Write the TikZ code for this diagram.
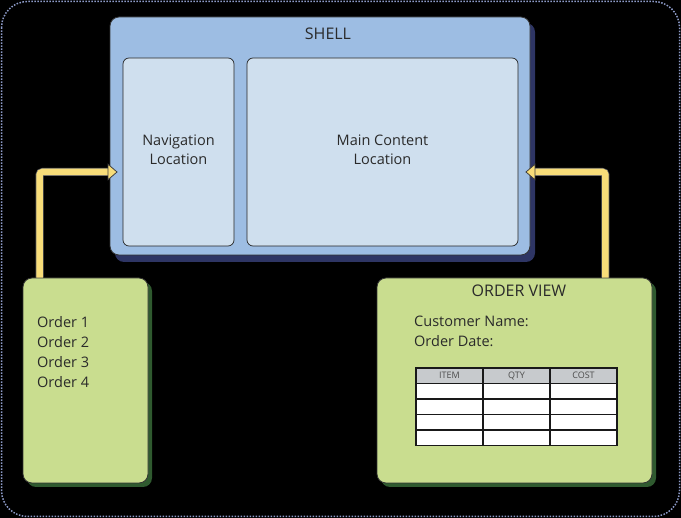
\documentclass[tikz,border=0pt]{standalone}
\usepackage{fontspec}
\setmainfont{Open Sans}
\usetikzlibrary{arrows.meta,positioning,calc}

\definecolor{shellblue}{HTML}{9DBDE3}
\definecolor{shellshadow}{HTML}{2E3564}
\definecolor{regionfill}{HTML}{CFDFEE}
\definecolor{viewgreen}{HTML}{C9DD8F}
\definecolor{viewshadow}{HTML}{2F5A2F}
\definecolor{flowyellow}{HTML}{F8DD79}
\definecolor{headgray}{HTML}{C7CACD}
\definecolor{dotblue}{HTML}{8D9BC8}
\definecolor{inktext}{HTML}{2A2A2A}

\begin{document}
\begin{tikzpicture}[x=1pt,y=-1pt,font=\fontsize{14.5}{19.5}\selectfont,
                    text=inktext]
  \tikzstyle{region}=[draw=black!85,fill=regionfill,rounded corners=6pt,
                      line width=0.7pt,inner sep=0pt,align=center]
  \tikzstyle{viewbox}=[draw=black!80,fill=viewgreen,rounded corners=9pt,
                       line width=0.8pt,inner sep=0pt]
  \tikzstyle{title}=[font=\fontsize{16}{19}\selectfont]
  \tikzstyle{cell}=[draw=black!90,line width=1.3pt,fill=white,
                    minimum width=67pt,minimum height=15.5pt,inner sep=0pt,
                    outer sep=0pt,font=\fontsize{9}{10}\selectfont,
                    text=black!70]
  \tikzstyle{flow}=[draw=flowyellow,line width=6.5pt,rounded corners=3pt,
                    -{Triangle[length=10pt,width=17pt,line width=0.8pt,
                      fill=flowyellow,color=black!75]},
                    preaction={draw=black!60,line width=8pt,arrows=-,
                      shorten >=9pt}]

  % background and frame
  \fill[black] (0,0) rectangle (681,518);
  \draw[dotblue,line width=1.5pt,dash pattern=on 1.5pt off 1.5pt,
        rounded corners=26pt] (1.5,1.5) rectangle (679.5,516.5);

  % shell
  \fill[shellshadow,rounded corners=9pt] (115,23) rectangle (535,262);
  \node[draw=black!80,fill=shellblue,rounded corners=9pt,line width=0.8pt,
        minimum width=420pt,minimum height=238pt,inner sep=0pt]
        (shell) at (320,136) {};
  \node[title] (shelltitle) at (328,34) {SHELL};
  \node[region,minimum width=111pt,minimum height=188pt] (nav) at (178.5,152) {};
  \node[region,minimum width=271pt,minimum height=188pt] (main) at (382.5,152) {};
  \node[align=center] (navtext) at (nav.center) [yshift=2pt] {Navigation\\Location};
  \node[align=center] (maintext) at (main.center) [yshift=2pt] {Main Content\\Location};

  % order list
  \fill[viewshadow,rounded corners=9pt] (27,282) rectangle (152,487);
  \node[viewbox,minimum width=125pt,minimum height=205pt] (orders)
        at (85.5,380.5) {};
  \node[anchor=north west,align=left,inner sep=0pt,
        font=\fontsize{14.5}{20}\selectfont] (orderlist) at (37,316)
        {Order 1\\Order 2\\Order 3\\Order 4};

  % order view
  \fill[viewshadow,rounded corners=9pt] (381,282) rectangle (656,487);
  \node[viewbox,minimum width=275pt,minimum height=205pt] (view)
        at (514.5,380.5) {};
  \node[title] (viewtitle) at (519,291) {ORDER VIEW};
  \node[anchor=north west,align=left,inner sep=0pt] (viewfields) at (414,316)
        {Customer Name:\\Order Date:};

  % table
  \node[cell,fill=headgray] (item) at (449.5,375.75) {ITEM};
  \node[cell,fill=headgray,right=0pt of item] (qty) {QTY};
  \node[cell,fill=headgray,right=0pt of qty] (cost) {COST};
  \foreach \col in {item,qty,cost}{
    \node[cell,below=0pt of \col] (\col1) {};
    \node[cell,below=0pt of \col1] (\col2) {};
    \node[cell,below=0pt of \col2] (\col3) {};
    \node[cell,below=0pt of \col3] (\col4) {};
  }

  % connectors
  \draw[flow] ([xshift=17pt]orders.north west) |- ([shift={(-5pt,-20pt)}]nav.west);
  \draw[flow] ([xshift=-47pt]view.north east) |- ([shift={(7pt,-20pt)}]main.east);
\end{tikzpicture}
\end{document}
